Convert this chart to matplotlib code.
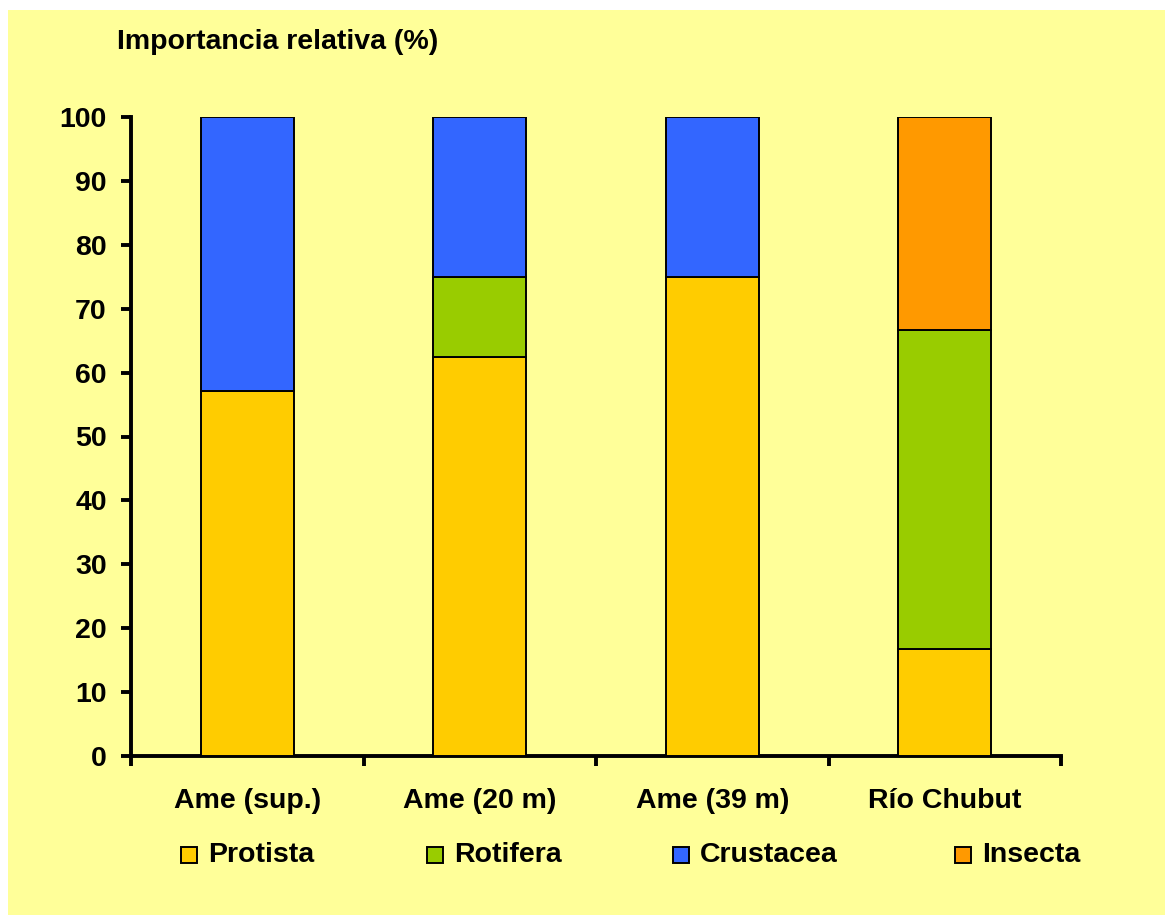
import matplotlib
matplotlib.use("Agg")
import matplotlib.pyplot as plt
from matplotlib.patches import Rectangle
import numpy as np

# Data: relative importance (%) of prey groups per site
sites = ["Ame (sup.)", "Ame (20 m)", "Ame (39 m)", "Río Chubut"]
groups = ["Protista", "Rotifera", "Crustacea", "Insecta"]
protista = [57.1, 62.5, 75.0, 16.7]
rotifera = [0.0, 12.5, 0.0, 50.0]
crustacea = [42.9, 25.0, 25.0, 0.0]
insecta = [0.0, 0.0, 0.0, 33.3]
y_ticks = [0, 10, 20, 30, 40, 50, 60, 70, 80, 90, 100]

colors = ["#FFCC00", "#99CC00", "#3366FF", "#FF9900"]
bg = "#FFFF99"
FS = 20.5

plt.rcParams["font.family"] = ["Liberation Sans", "DejaVu Sans"]
plt.rcParams["font.weight"] = "bold"

W, H = 1170, 917
fig = plt.figure(figsize=(W / 100, H / 100), dpi=100, facecolor="white")
fig.patches.append(Rectangle((8 / W, 1 - 915 / H), (1165 - 8) / W, (915 - 10) / H,
                             transform=fig.transFigure, facecolor=bg,
                             edgecolor="none", zorder=-10))

ax = fig.add_axes([131 / W, 1 - 756 / H, (1061 - 131) / W, (756 - 117) / H])
ax.set_facecolor("none")

x = np.arange(len(sites))
series = [protista, rotifera, crustacea, insecta]
bottom = np.zeros(len(sites))
for vals, col in zip(series, colors):
    vals = np.asarray(vals)
    mask = vals > 0
    ax.bar(x[mask], vals[mask], width=0.4, bottom=bottom[mask], color=col,
           edgecolor="black", linewidth=1.4, zorder=3)
    bottom += vals

ax.set_xlim(-0.5, len(sites) - 0.5)
ax.set_ylim(0, 100)
ax.set_yticks(y_ticks)
ax.set_yticklabels([str(v) for v in y_ticks], fontsize=FS, fontweight="bold")
ax.set_xticks(x)
ax.set_xticklabels(sites, fontsize=FS, fontweight="bold")
ax.set_xticks(np.arange(-0.5, len(sites)), minor=True)

for s in ["top", "right"]:
    ax.spines[s].set_visible(False)
for s in ["left", "bottom"]:
    ax.spines[s].set_linewidth(2.8)
    ax.spines[s].set_capstyle("projecting")

ax.tick_params(axis="y", direction="out", length=7.5, width=2.8, pad=10)
ax.tick_params(axis="x", which="major", length=0, pad=23)
ax.tick_params(axis="x", which="minor", direction="out", length=7, width=2.8)

fig.text(117 / W, 1 - 42 / H, "Importancia relativa (%)", fontsize=FS,
         fontweight="bold", ha="left", va="center")

# Legend row
leg_x = [181, 427, 673, 955]
leg_y = 855
sq = 16
for lx, name, col in zip(leg_x, groups, colors):
    fig.patches.append(Rectangle((lx / W, 1 - (leg_y + sq / 2) / H), sq / W, sq / H,
                                 transform=fig.transFigure, facecolor=col,
                                 edgecolor="black", linewidth=1.4))
    fig.text((lx + sq + 11) / W, 1 - leg_y / H, name, fontsize=FS,
             fontweight="bold", ha="left", va="center")

fig.savefig("out.png", dpi=100, facecolor="white")
